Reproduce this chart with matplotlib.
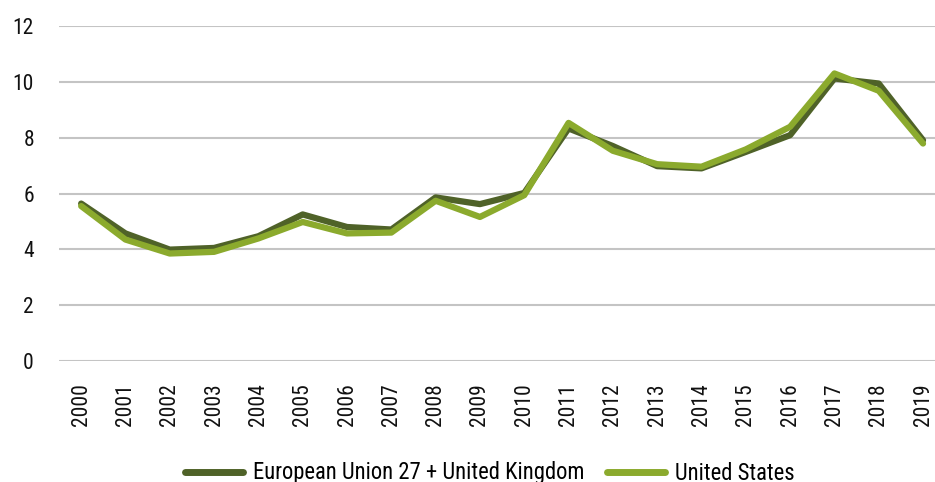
import matplotlib
matplotlib.use("Agg")
import matplotlib.pyplot as plt

years = [str(y) for y in range(2000, 2020)]
eu_uk = [5.64, 4.57, 3.99, 4.05, 4.47, 5.25, 4.80, 4.71, 5.86, 5.62,
         6.02, 8.33, 7.70, 6.98, 6.90, 7.49, 8.09, 10.12, 9.94, 7.91]
us = [5.55, 4.35, 3.85, 3.91, 4.39, 4.98, 4.57, 4.60, 5.74, 5.16,
      5.94, 8.53, 7.53, 7.05, 6.96, 7.58, 8.39, 10.30, 9.68, 7.79]
yticks = [0, 2, 4, 6, 8, 10, 12]

plt.rcParams['font.family'] = ['Roboto Condensed', 'Archivo Narrow', 'DejaVu Sans']

fig = plt.figure(figsize=(9.35, 4.82), dpi=100)
ax = fig.add_axes([59/935, 1-361/482, 1-59/935, (361-26)/482])

x = list(range(len(years)))
ax.plot(x, eu_uk, color='#4F6228', lw=4.5, solid_joinstyle='round', solid_capstyle='round',
        label='European Union 27 + United Kingdom', zorder=3)
ax.plot(x, us, color='#8BAA2D', lw=4.5, solid_joinstyle='round', solid_capstyle='round',
        label='United States', zorder=4)

ax.set_ylim(0, 12)
ax.set_yticks(yticks)
ax.set_yticklabels([str(t) for t in yticks], fontsize=15.5)
ax.set_xlim(-0.5, 19.27)
ax.set_xticks(x)
ax.set_xticklabels(years, rotation=90, fontsize=15.5)
ax.tick_params(axis='both', length=0, colors='#111111')
ax.tick_params(axis='x', pad=16)
ax.tick_params(axis='y', pad=18)

ax.yaxis.grid(True, color='#C4C4C4', lw=1.5)
ax.set_axisbelow(True)
for s in ax.spines.values():
    s.set_visible(False)

leg = fig.legend(loc='center', bbox_to_anchor=(0.524, 1-473/482), ncol=2, frameon=False,
                 fontsize=16.3, handlelength=2.57, columnspacing=1.0, handletextpad=0.44,
                 borderpad=0, borderaxespad=0)
for h in leg.get_lines():
    h.set_linewidth(5)
    h.set_solid_capstyle('round')

fig.savefig('out.png', dpi=100)
